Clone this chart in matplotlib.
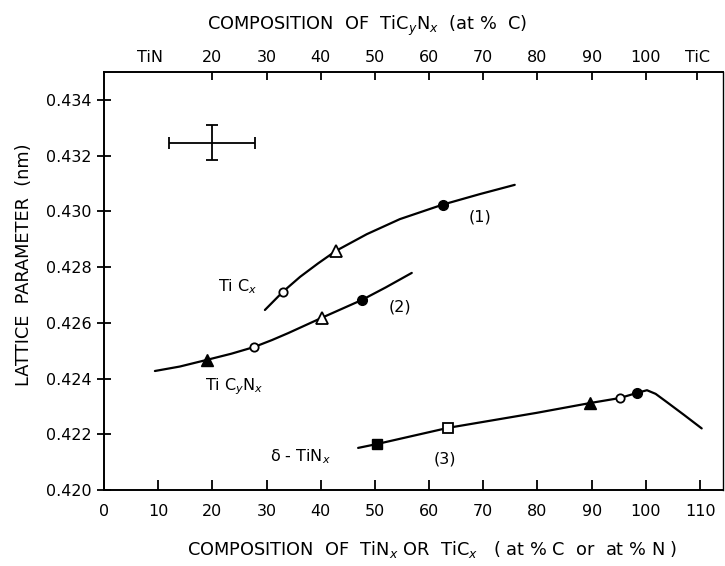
import numpy as np
import matplotlib
matplotlib.use("Agg")
import matplotlib.pyplot as plt

plt.rcParams['font.family'] = ['DejaVu Sans']
plt.rcParams['mathtext.fontset'] = 'dejavusans'

# ---- data ----
# curve (1): TiCx
c1_x = [29.7, 33.0, 36.2, 39.5, 42.8, 48.5, 54.6, 62.5, 69.4, 75.8]
c1_y = [0.42646, 0.42711, 0.42765, 0.42813, 0.42858, 0.42918, 0.42972, 0.43024, 0.43062, 0.43095]
# curve (2): TiCyNx
c2_x = [9.4, 14.0, 19.0, 23.5, 27.7, 31.0, 34.0, 40.2, 47.6, 52.0, 56.8]
c2_y = [0.42427, 0.42443, 0.42467, 0.42489, 0.42513, 0.42538, 0.42563, 0.42618, 0.42682, 0.42727, 0.42779]
# curve (3): delta-TiNx
c3_x = [46.9, 50.4, 63.5, 79.9, 89.7, 95.2, 98.3, 100.2, 101.8, 103.9, 107.0, 110.3]
c3_y = [0.42151, 0.42165, 0.42223, 0.42277, 0.42312, 0.42330, 0.42348, 0.42358, 0.42345, 0.42315, 0.42270, 0.42221]

# markers
open_circle_x = [33.0, 27.7, 95.2]
open_circle_y = [0.42711, 0.42513, 0.42330]
filled_circle_x = [62.5, 47.6, 98.3]
filled_circle_y = [0.43024, 0.42682, 0.42348]
open_tri_x = [42.8, 40.2]
open_tri_y = [0.42858, 0.42618]
filled_tri_x = [19.0, 89.7]
filled_tri_y = [0.42467, 0.42312]
open_sq_x = [63.5]
open_sq_y = [0.42223]
filled_sq_x = [50.4]
filled_sq_y = [0.42165]

# error bar example
err_x, err_y = 19.9, 0.43246
err_dx, err_dy = 7.9, 0.00063

# ticks
bottom_ticks = [0, 10, 20, 30, 40, 50, 60, 70, 80, 90, 100, 110]
y_ticks = [0.420, 0.422, 0.424, 0.426, 0.428, 0.430, 0.432, 0.434]
top_ticks = [8.5, 20, 30, 40, 50, 60, 70, 80, 90, 100, 109.5]
top_labels = ['TiN', '20', '30', '40', '50', '60', '70', '80', '90', '100', 'TiC']

# ---- figure ----
fig = plt.figure(figsize=(7.25, 5.66), dpi=100)
ax = fig.add_axes([0.1434, 0.1343, 0.997 - 0.1434, 0.8728 - 0.1343])

lw = 1.6
for xs, ys in [(c1_x, c1_y), (c2_x, c2_y), (c3_x, c3_y)]:
    ax.plot(xs, ys, color='black', lw=lw, solid_capstyle='round',
            solid_joinstyle='round', zorder=2)

ax.plot(open_circle_x, open_circle_y, 'o', ms=6, mfc='white', mec='black', mew=1.3, zorder=3)
ax.plot(filled_circle_x, filled_circle_y, 'o', ms=7, mfc='black', mec='black', zorder=3)
ax.plot(open_tri_x, open_tri_y, '^', ms=8, mfc='white', mec='black', mew=1.3, zorder=3)
ax.plot(filled_tri_x, filled_tri_y, '^', ms=8, mfc='black', mec='black', zorder=3)
ax.plot(open_sq_x, open_sq_y, 's', ms=7, mfc='white', mec='black', mew=1.3, zorder=3)
ax.plot(filled_sq_x, filled_sq_y, 's', ms=7, mfc='black', mec='black', zorder=3)

ax.errorbar([err_x], [err_y], xerr=[err_dx], yerr=[err_dy], fmt='none',
            ecolor='black', elinewidth=1.3, capsize=4, capthick=1.3)

fs = 11.5
tfs = 12.8
ax.text(21.0, 0.42729, r'Ti C$_{\mathit{x}}$', fontsize=fs, va='center', ha='left')
ax.text(18.6, 0.42370, r'Ti C$_{\mathit{y}}$N$_{\mathit{x}}$', fontsize=fs, va='center', ha='left')
ax.text(30.6, 0.42118, r'δ - TiN$_{\mathit{x}}$', fontsize=fs, va='center', ha='left')
ax.text(69.4, 0.42980, '(1)', fontsize=fs, va='center', ha='center')
ax.text(54.6, 0.42657, '(2)', fontsize=fs, va='center', ha='center')
ax.text(62.9, 0.42111, '(3)', fontsize=fs, va='center', ha='center')

ax.set_xlim(0, 114.2)
ax.set_ylim(0.420, 0.435)
ax.set_xticks(bottom_ticks)
ax.set_xticklabels([str(t) for t in bottom_ticks])
ax.set_yticks(y_ticks)
ax.set_yticklabels(['%.3f' % t for t in y_ticks])
ax.tick_params(axis='x', direction='in', length=7, width=1.3, labelsize=fs, pad=10)
ax.tick_params(axis='y', direction='inout', length=10, width=1.3, labelsize=fs, pad=4)

for s in ['left', 'bottom', 'top']:
    ax.spines[s].set_linewidth(1.4)
ax.spines['right'].set_linewidth(1.0)

ax2 = ax.twiny()
ax2.set_xlim(ax.get_xlim())
ax2.set_xticks(top_ticks)
ax2.set_xticklabels(top_labels)
ax2.tick_params(axis='x', direction='in', length=6, width=1.3, labelsize=fs, pad=5)
ax2.xaxis.get_major_ticks()[0].tick2line.set_visible(False)
for s in ax2.spines.values():
    s.set_visible(False)

ax.set_ylabel('LATTICE  PARAMETER  (nm)', fontsize=tfs)
ax.yaxis.set_label_coords(-0.115, 0.538)
fig.text(432 / 725, 1 - 550 / 566,
         r'COMPOSITION  OF  TiN$_{\mathit{x}}$ OR  TiC$_{\mathit{x}}$   ( at % C  or  at % N )',
         fontsize=tfs, ha='center', va='center')
fig.text(367 / 725, 1 - 26 / 566,
         r'COMPOSITION  OF  TiC$_{\mathit{y}}$N$_{\mathit{x}}$  (at %  C)',
         fontsize=tfs, ha='center', va='center')

fig.savefig('out.png', dpi=100)
